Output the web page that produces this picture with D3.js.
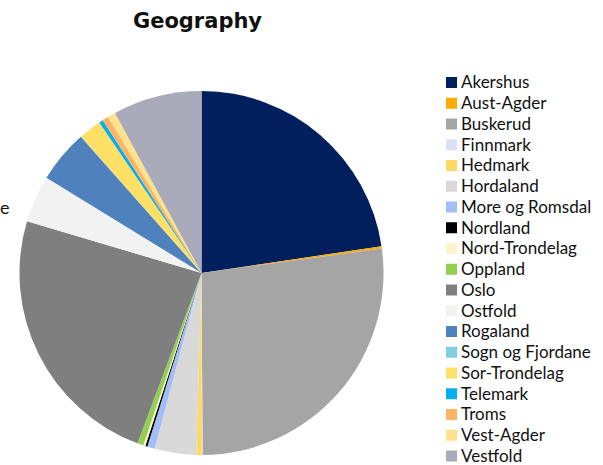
<!DOCTYPE html>
<html><head><meta charset="utf-8">
<script src="https://cdn.jsdelivr.net/npm/d3@7"></script>
<style>body{margin:0;background:#fff;}</style>
</head><body>
<svg id="c" width="603" height="465"></svg>
<script>
const regions = ["Akershus","Aust-Agder","Buskerud","Finnmark","Hedmark","Hordaland","More og Romsdal","Nordland","Nord-Trondelag","Oppland","Oslo","Ostfold","Rogaland","Sogn og Fjordane","Sor-Trondelag","Telemark","Troms","Vest-Agder","Vestfold"];
const shares = [22.7,0.2,27.1,0.05,0.5,3.7,0.67,0.18,0.2,0.53,23.9,4.2,4.7,0.05,2.0,0.36,0.55,0.7,7.9];
const colors = ["#001f5c","#ffab00","#a5a5a5","#dae3f3","#ffd966","#d9d9d9","#a0bef8","#000000","#fff2cc","#92d050","#7f7f7f","#f2f2f2","#4f81bd","#80cfe0","#ffe066","#00b0f0","#ffb366","#ffe38c","#aaabba"];
const title = "Geography";

const svg = d3.select("#c");
const data = regions.map((r,i)=>({name:r, value:shares[i], color:colors[i]}));

const cx = 201.5, cy = 273, R = 182;
const pie = d3.pie().sort(null).value(d=>d.value);
const arc = d3.arc().innerRadius(0).outerRadius(R);

svg.append("g").attr("transform",`translate(${cx},${cy})`)
  .selectAll("path").data(pie(data)).join("path")
  .attr("d",arc).attr("fill",d=>d.data.color);

svg.append("text").attr("x",197.5).attr("y",28).attr("text-anchor","middle")
  .attr("font-family","DejaVu Sans").attr("font-weight","bold").attr("font-size",21)
  .attr("fill","#111").text(title);

// label fragment at left edge
svg.append("text").attr("x",0).attr("y",214).attr("text-anchor","start")
  .attr("font-family","Lato").attr("font-size",18).attr("fill","#111").text("e");

const lg = svg.append("g");
const rowH = 20.75, ly0 = 82.5;
const items = lg.selectAll("g").data(data).join("g")
  .attr("transform",(d,i)=>`translate(446,${ly0 + i*rowH})`);
items.append("rect").attr("x",0).attr("y",-5.5).attr("width",11).attr("height",11).attr("fill",d=>d.color);
items.append("text").attr("x",15).attr("y",5.8).attr("font-family","Lato").attr("font-size",17)
  .attr("fill","#111").text(d=>d.name);
</script>
</body></html>
